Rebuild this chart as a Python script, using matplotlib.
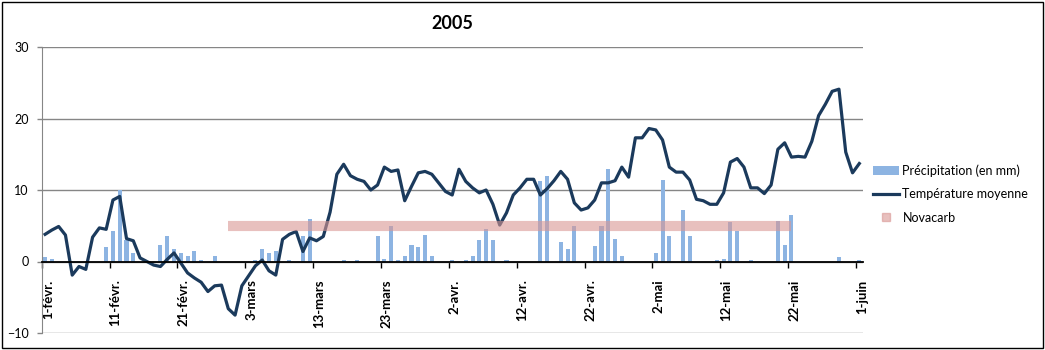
import matplotlib
matplotlib.use("Agg")
import matplotlib.pyplot as plt
from matplotlib.lines import Line2D
from matplotlib.patches import Patch, Rectangle
import numpy as np
import pandas as pd

# ---- data ----
dates = pd.date_range("2005-02-01", "2005-06-01", freq="D")

temperature = [
    3.8, 4.4, 4.9, 3.7, -1.9, -0.7, -1.1, 3.4, 4.7, 4.5,
    8.6, 9.1, 3.2, 2.9, 0.5, 0.0, -0.5, -0.7, 0.3, 1.2,
    -0.2, -1.6, -2.3, -2.9, -4.2, -3.4, -3.3, -6.6, -7.5, -3.4,
    -2.0, -0.6, 0.2, -1.3, -1.9, 3.1, 3.8, 4.2, 1.4, 3.3,
    2.9, 3.5, 6.9, 12.2, 13.6, 12.0, 11.5, 11.2, 10.0, 10.7,
    13.2, 12.6, 12.8, 8.5, 10.5, 12.4, 12.6, 12.2, 11.0, 9.8,
    9.3, 12.9, 11.2, 10.3, 9.6, 10.0, 8.0, 5.1, 6.8, 9.3,
    10.3, 11.5, 11.5, 9.3, 10.2, 11.3, 12.6, 11.5, 8.2, 7.2,
    7.5, 8.6, 11.0, 11.0, 11.3, 13.2, 11.8, 17.3, 17.3, 18.6,
    18.4, 17.0, 13.2, 12.5, 12.5, 11.4, 8.7, 8.5, 8.0, 8.0,
    9.6, 13.9, 14.4, 13.2, 10.3, 10.3, 9.5, 10.7, 15.7, 16.6,
    14.6, 14.7, 14.6, 16.8, 20.4, 22.0, 23.8, 24.1, 15.3, 12.4,
    13.7,
]

precipitation = [
    0.6, 0.3, 0, 0, 0, 0, 0, 0, 0, 2.0,
    4.2, 10.0, 3.0, 1.2, 0, 0, 0, 2.3, 3.6, 1.8,
    1.2, 0.8, 1.4, 0.2, 0, 0.8, 0, 0, 0, 0,
    0, 0.2, 1.8, 1.2, 1.4, 0, 0.2, 0, 3.5, 6.0,
    0, 0, 0, 0, 0.2, 0, 0.2, 0, 0, 3.6,
    0.3, 4.9, 0.2, 0.8, 2.3, 2.05, 3.7, 0.7, 0, 0,
    0.2, 0, 0.2, 0.7, 3.0, 4.6, 3.0, 0, 0.2, 0,
    0, 0, 0, 11.2, 12.0, 0, 2.7, 1.8, 4.9, 0,
    0, 2.1, 4.9, 13.0, 3.2, 0.7, 0, 0, 0, 0,
    1.2, 11.4, 3.5, 0, 7.2, 3.5, 0, 0, 0, 0.2,
    0.3, 5.5, 4.2, 0, 0.2, 0, 0, 0, 5.6, 2.3,
    6.5, 0, 0, 0, 0, 0, 0, 0.65, 0, 0,
    0.2,
]

novacarb_start = "2005-02-28"
novacarb_end = "2005-05-22"
novacarb_level = 5

tick_dates = ["2005-02-01", "2005-02-11", "2005-02-21", "2005-03-03", "2005-03-13",
              "2005-03-23", "2005-04-02", "2005-04-12", "2005-04-22", "2005-05-02",
              "2005-05-12", "2005-05-22", "2005-06-01"]
tick_labels = ["1-févr.", "11-févr.", "21-févr.", "3-mars", "13-mars", "23-mars",
               "2-avr.", "12-avr.", "22-avr.", "2-mai", "12-mai", "22-mai", "1-juin"]

title = "2005"
labels = ["Précipitation (en mm)", "Température moyenne", "Novacarb"]

# ---- style ----
plt.rcParams["font.family"] = ["Lato", "DejaVu Sans"]
bar_color = "#8DB4E2"
line_color = "#1B3A5C"
band_color = "#D99694"
grid_color = "#868686"

W, H = 1045, 350
fig = plt.figure(figsize=(W / 100, H / 100), dpi=100)
ax = fig.add_axes([41.7 / W, 1 - 333 / H, (862.7 - 41.7) / W, (333 - 47) / H])

x = np.arange(len(dates))
date_index = {d: i for i, d in enumerate(dates)}

# spines first (set_position resets the ticks)
for s in ["top", "right"]:
    ax.spines[s].set_visible(False)
ax.spines["bottom"].set_position(("data", 0))
ax.spines["bottom"].set_color("#000000")
ax.spines["bottom"].set_linewidth(1.3)
ax.spines["bottom"].set_zorder(5)
ax.spines["left"].set_color(grid_color)

ax.bar(x, precipitation, width=0.6, color=bar_color, zorder=2)
ax.plot(x, temperature, color=line_color, lw=2.3, zorder=3, solid_joinstyle="round")
i0 = date_index[pd.Timestamp(novacarb_start)]
i1 = date_index[pd.Timestamp(novacarb_end)]
ax.plot([i0, i1], [novacarb_level, novacarb_level], color=band_color, alpha=0.6,
        lw=7.3, solid_capstyle="butt", zorder=4)

ax.set_xlim(-0.5, len(dates) - 0.5)
ax.set_ylim(-10, 30)
ax.set_yticks([-10, 0, 10, 20, 30])
ax.yaxis.grid(True, color=grid_color, lw=1.0, zorder=0)
ax.set_axisbelow(True)

ticks_pos = [date_index[pd.Timestamp(d)] - 0.5 for d in tick_dates]
ax.set_xticks(ticks_pos)
ax.set_xticklabels(tick_labels)
ax.tick_params(axis="x", length=4, width=1, color="#000000", pad=9, direction="out",
               labelrotation=90, labelsize=9.5)
for lab in ax.get_xticklabels():
    lab.set_fontweight("bold")
    lab.set_horizontalalignment("left")
    lab.set_verticalalignment("top")
ax.tick_params(axis="y", length=3.5, width=1, color=grid_color, labelsize=9, pad=6)

ax.set_title(title, fontsize=13, fontweight="bold", y=1.0, pad=13)

handles = [
    Patch(facecolor=bar_color, edgecolor="none"),
    Line2D([0], [0], color=line_color, lw=2.3),
    Line2D([0], [0], color=band_color, alpha=0.6, marker="s", markersize=6, lw=0),
]
fig.legend(handles, labels, loc="center left", bbox_to_anchor=(868 / W, 1 - 194 / H),
           frameon=False, fontsize=9, handlelength=2.1, handletextpad=0.25,
           labelspacing=0.9, borderaxespad=0)

fig.patches.append(Rectangle((2 / W, 2 / H), 1 - 4 / W, 1 - 4 / H, transform=fig.transFigure,
                             fill=False, edgecolor="#000000", lw=1.0))

fig.savefig("out.png", dpi=100)
